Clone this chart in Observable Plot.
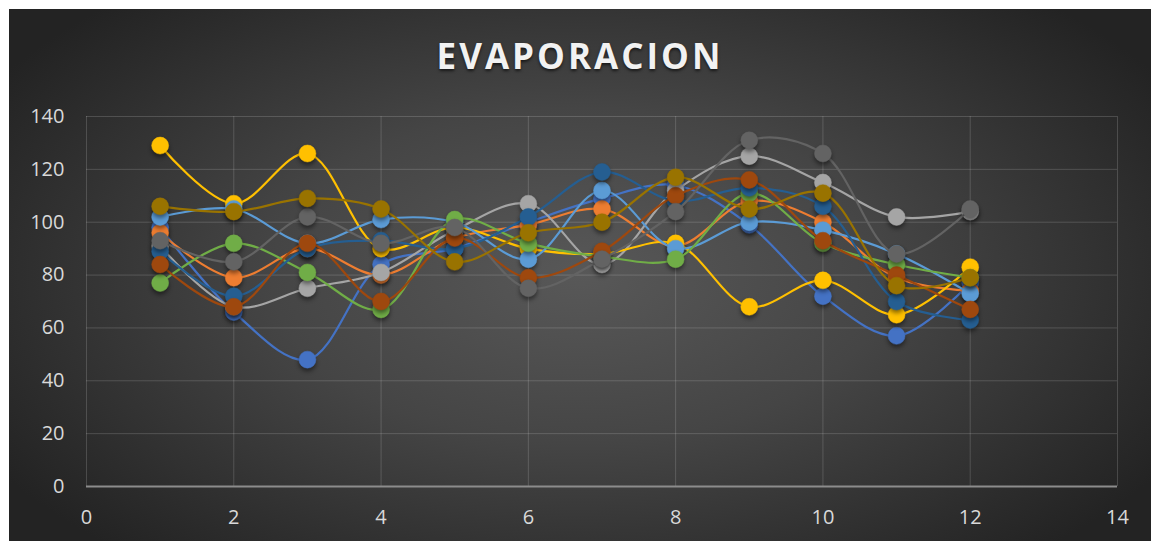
<!DOCTYPE html>
<html>
<head>
<meta charset="utf-8">
<script src="https://cdn.jsdelivr.net/npm/d3@7"></script>
<script src="https://cdn.jsdelivr.net/npm/@observablehq/plot@0.6"></script>
<style>
  html, body { margin: 0; padding: 0; background: #ffffff; width: 1160px; height: 544px; overflow: hidden; }
  #panel {
    position: absolute; left: 9px; top: 9px; width: 1142px; height: 532px; overflow: hidden;
    background: radial-gradient(ellipse 60% 70% at 50% 50%, #585858 0%, #454545 45%, #2c2c2c 85%, #232323 100%);
  }
  #title {
    position: absolute; left: 0; top: 29px; width: 100%; text-align: center;
    font-family: "Open Sans", sans-serif; font-weight: 700; font-size: 35px; line-height: 35px;
    letter-spacing: 3px; color: #f2f2f2; text-shadow: 0 2px 3px rgba(0,0,0,0.6);
  }
  #chart { position: absolute; left: 0; top: 81px; }
  #chart svg circle { filter: drop-shadow(0px 3px 2px rgba(0,0,0,0.45)); }
</style>
</head>
<body>
<div id="panel">
  <div id="title">EVAPORACION</div>
  <div id="chart"></div>
</div>
<script>
// Months (x values)
const months = [1, 2, 3, 4, 5, 6, 7, 8, 9, 10, 11, 12];

// Series values
const serie1  = [98, 66, 48, 84, 90, 100, 109, 114, 99, 72, 57, 77];      // blue
const serie2  = [96, 79, 90, 80, 94, 99, 105, 91, 108, 100, 79, 74];      // orange
const serie3  = [91, 68, 75, 81, 97, 107, 84, 112, 125, 115, 102, 104];   // light gray
const serie4  = [129, 107, 126, 90, 98, 90, 88, 92, 68, 78, 65, 83];      // yellow
const serie5  = [102, 105, 92, 101, 100, 86, 112, 90, 100, 97, 88, 73];   // light blue
const serie6  = [77, 92, 81, 67, 101, 92, 87, 86, 111, 92, 84, 79];       // green
const serie7  = [89, 72, 90, 93, 90, 102, 119, 108, 113, 106, 70, 63];    // dark blue
const serie8  = [84, 68, 92, 70, 94, 79, 89, 110, 116, 93, 80, 67];       // brown
const serie9  = [93, 85, 102, 92, 98, 75, 86, 104, 131, 126, 88, 105];    // dark gray
const serie10 = [106, 104, 109, 105, 85, 96, 100, 117, 105, 111, 76, 79]; // gold

const seriesNames = ["Serie1","Serie2","Serie3","Serie4","Serie5","Serie6","Serie7","Serie8","Serie9","Serie10"];
const seriesValues = [serie1, serie2, serie3, serie4, serie5, serie6, serie7, serie8, serie9, serie10];
const seriesColors = ["#4472C4","#ED7D31","#A5A5A5","#FFC000","#5B9BD5","#70AD47","#255E91","#9E480E","#636363","#997300"];

const xTicks = [0, 2, 4, 6, 8, 10, 12, 14];
const yTicks = [0, 20, 40, 60, 80, 100, 120, 140];

const seriesMarks = seriesValues.flatMap((vals, i) => {
  const rows = months.map((m, j) => ({serie: seriesNames[i], x: m, y: vals[j]}));
  return [
    Plot.line(rows, {x: "x", y: "y", stroke: seriesColors[i], strokeWidth: 2.2, curve: "catmull-rom"}),
    Plot.dot(rows, {x: "x", y: "y", r: 8.5, fill: seriesColors[i], stroke: seriesColors[i], strokeWidth: 0.5})
  ];
});

const chart = Plot.plot({
  width: 1142,
  height: 450,
  marginLeft: 77,
  marginRight: 34,
  marginTop: 26,
  marginBottom: 54,
  style: {background: "transparent", color: "#d9d9d9", fontFamily: "'Open Sans', sans-serif", fontSize: "20px", overflow: "visible"},
  x: {domain: [0, 14], ticks: xTicks, tickSize: 0, tickPadding: 23, label: null},
  y: {domain: [0, 140], ticks: yTicks, tickSize: 0, tickPadding: 22, label: null},
  marks: [
    Plot.gridX(xTicks, {stroke: "#ffffff", strokeOpacity: 0.16, strokeWidth: 1}),
    Plot.gridY(yTicks, {stroke: "#ffffff", strokeOpacity: 0.16, strokeWidth: 1}),
    Plot.ruleY([0], {stroke: "#8c8c8c", strokeWidth: 2}),
    ...seriesMarks
  ]
});
document.getElementById("chart").appendChild(chart);
</script>
</body>
</html>
